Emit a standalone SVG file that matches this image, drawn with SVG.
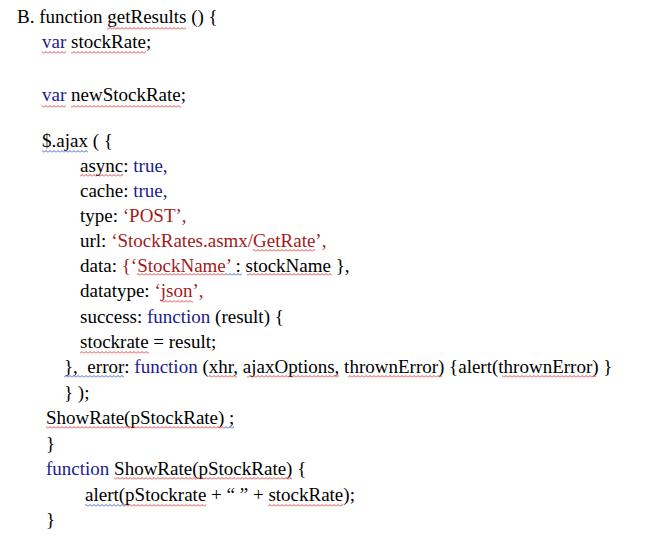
<svg xmlns="http://www.w3.org/2000/svg" width="650" height="545" viewBox="0 0 650 545">
<style>
text{font-family:"Liberation Serif","Times New Roman",serif;font-size:19px;fill:#000}
.k{fill:#1c1c8c}
.s{fill:#a11b1b}
.wr{fill:url(#wr)}
.wb{fill:url(#wb)}
</style>
<defs>
<pattern id="wr" x="0" y="0" width="4" height="3" patternUnits="userSpaceOnUse"><path d="M0,2.5 L2,0.5 L4,2.5" fill="none" stroke="#e03030" stroke-width="0.9"/></pattern>
<pattern id="wb" x="0" y="0" width="4" height="3" patternUnits="userSpaceOnUse"><path d="M0,2.5 L2,0.5 L4,2.5" fill="none" stroke="#3050d0" stroke-width="0.9"/></pattern>
</defs>
<rect width="650" height="545" fill="#fff"/>
<g id="code">
<text x="17" y="23">B. function getResults () {</text>
<text x="42" y="48"><tspan class="k">var</tspan> stockRate;</text>
<text x="42" y="101"><tspan class="k">var</tspan> newStockRate;</text>
<text x="42" y="147">$.ajax ( {</text>
<text x="80" y="172">async: <tspan class="k">true,</tspan></text>
<text x="80" y="197">cache: <tspan class="k">true,</tspan></text>
<text x="80" y="222">type: <tspan class="s">‘POST’,</tspan></text>
<text x="80" y="247">url: <tspan class="s">‘StockRates.asmx/GetRate’,</tspan></text>
<text x="80" y="272">data: <tspan class="s">{‘StockName’</tspan> : stockName },</text>
<text x="80" y="297">datatype: <tspan class="s">‘json’,</tspan></text>
<text x="80" y="323">success: <tspan class="k">function</tspan> (result) {</text>
<text x="80" y="348">stockrate = result;</text>
<text x="64" y="373">},&#160; error: <tspan class="k">function</tspan> (xhr, ajaxOptions, thrownError) {alert(thrownError) }</text>
<text x="64" y="399">} );</text>
<text x="46" y="424">ShowRate(pStockRate) ;</text>
<text x="46" y="450">}</text>
<text x="46" y="475"><tspan class="k">function</tspan> ShowRate(pStockRate) {</text>
<text x="85" y="501">alert(pStockrate + “ ” + stockRate);</text>
<text x="46" y="526">}</text>
</g>
<g id="squiggles">
<rect class="wr" x="107" y="27" width="79" height="3"/>
<rect class="wr" x="42" y="51" width="24" height="3"/>
<rect class="wr" x="71" y="51" width="75" height="3"/>
<rect class="wr" x="42" y="105" width="24" height="3"/>
<rect class="wr" x="71" y="105" width="110" height="3"/>
<rect class="wb" x="42" y="150" width="46" height="3"/>
<rect class="wr" x="80" y="174" width="43" height="3"/>
<rect class="wr" x="253" y="249" width="62" height="3"/>
<rect class="wr" x="137" y="273" width="89" height="3"/>
<rect class="wb" x="226" y="273" width="16" height="3"/>
<rect class="wr" x="247" y="273" width="85" height="3"/>
<rect class="wr" x="161" y="300" width="32" height="3"/>
<rect class="wr" x="80" y="351" width="69" height="3"/>
<rect class="wb" x="64" y="375" width="60" height="3"/>
<rect class="wr" x="209" y="375" width="28" height="3"/>
<rect class="wr" x="247" y="375" width="92" height="3"/>
<rect class="wr" x="348" y="375" width="94" height="3"/>
<rect class="wr" x="502" y="375" width="94" height="3"/>
<rect class="wr" x="46" y="426" width="178" height="3"/>
<rect class="wb" x="224" y="426" width="10" height="3"/>
<rect class="wr" x="114" y="477" width="178" height="3"/>
<rect class="wb" x="85" y="504" width="40" height="3"/>
<rect class="wr" x="125" y="504" width="81" height="3"/>
<rect class="wr" x="268" y="504" width="75" height="3"/>
</g>
</svg>
